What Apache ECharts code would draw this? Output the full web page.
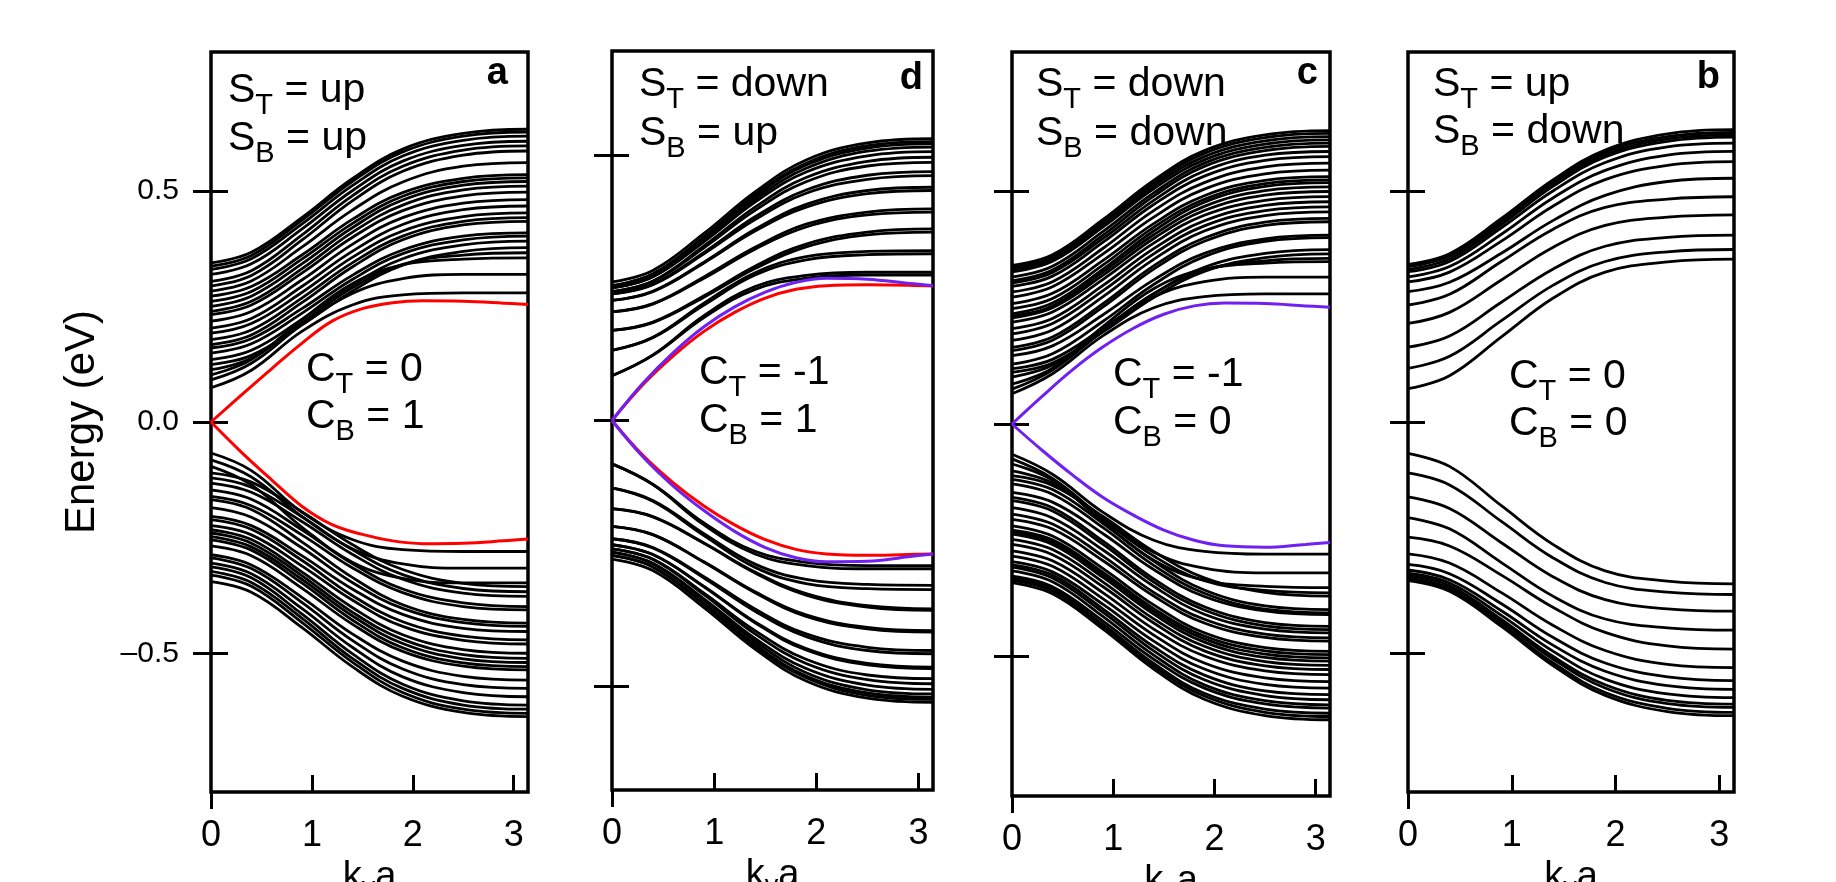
<!DOCTYPE html>
<html>
<head>
<meta charset="utf-8">
<title>Band structures</title>
<script src="https://cdn.jsdelivr.net/npm/echarts@6/dist/echarts.min.js"></script>
<style>
  html, body { margin: 0; padding: 0; background: #fff; }
  #main { width: 1836px; height: 882px; }
</style>
</head>
<body>
<div id="main"></div>
<script>
// sample points along k_y a for the bulk bands, and a finer set for the edge states
const kBand = [0, 0.4, 0.9, 1.4, 1.9, 2.5, 3.1416];
const kEdge = [0, 0.3, 0.6, 0.9, 1.2, 1.5, 1.8, 2.1, 2.5, 2.9, 3.1416];

const xTickValues = [0, 1, 2, 3];
const yTickValues = [-0.5, 0, 0.5];
const yTickValuesD = [-0.575, 0, 0.575];
const yTickLabels = { '-0.5': '\u20130.5', '0': '0.0', '0.5': '0.5' };

// panel a : S_T = up, S_B = up
const aUpper = [
  [0.344, 0.367, 0.442, 0.526, 0.590, 0.624, 0.633],
  [0.337, 0.360, 0.436, 0.520, 0.584, 0.618, 0.627],
  [0.330, 0.353, 0.428, 0.511, 0.575, 0.609, 0.618],
  [0.319, 0.342, 0.417, 0.500, 0.564, 0.598, 0.607],
  [0.304, 0.327, 0.404, 0.489, 0.553, 0.588, 0.597],
  [0.294, 0.317, 0.393, 0.478, 0.542, 0.577, 0.586],
  [0.283, 0.305, 0.378, 0.458, 0.519, 0.553, 0.561],
  [0.272, 0.293, 0.361, 0.438, 0.496, 0.527, 0.535],
  [0.261, 0.282, 0.352, 0.429, 0.488, 0.520, 0.528],
  [0.250, 0.272, 0.342, 0.420, 0.480, 0.512, 0.520],
  [0.239, 0.261, 0.331, 0.410, 0.469, 0.502, 0.510],
  [0.232, 0.253, 0.322, 0.399, 0.457, 0.489, 0.497],
  [0.218, 0.239, 0.307, 0.384, 0.442, 0.473, 0.481],
  [0.203, 0.224, 0.293, 0.369, 0.427, 0.459, 0.467],
  [0.192, 0.213, 0.280, 0.356, 0.413, 0.444, 0.452],
  [0.178, 0.199, 0.268, 0.344, 0.402, 0.434, 0.442],
  [0.167, 0.188, 0.258, 0.335, 0.394, 0.426, 0.434],
  [0.160, 0.180, 0.245, 0.317, 0.372, 0.402, 0.409],
  [0.149, 0.169, 0.235, 0.308, 0.364, 0.394, 0.402],
  [0.135, 0.155, 0.222, 0.296, 0.353, 0.383, 0.391],
  [0.124, 0.144, 0.210, 0.283, 0.339, 0.369, 0.377],
  [0.113, 0.138, 0.214, 0.290, 0.341, 0.361, 0.366],
  [0.102, 0.135, 0.221, 0.299, 0.340, 0.352, 0.355],
  [0.091, 0.127, 0.210, 0.278, 0.310, 0.319, 0.319],
  [0.074, 0.112, 0.196, 0.253, 0.275, 0.279, 0.279]
];
const aLower = [
  [-0.067, -0.105, -0.195, -0.254, -0.276, -0.280, -0.280],
  [-0.082, -0.119, -0.204, -0.274, -0.307, -0.316, -0.316],
  [-0.096, -0.136, -0.227, -0.303, -0.338, -0.348, -0.348],
  [-0.110, -0.130, -0.194, -0.265, -0.319, -0.349, -0.356],
  [-0.121, -0.141, -0.205, -0.276, -0.330, -0.360, -0.367],
  [-0.132, -0.152, -0.215, -0.286, -0.340, -0.370, -0.377],
  [-0.147, -0.167, -0.233, -0.306, -0.361, -0.391, -0.399],
  [-0.161, -0.181, -0.244, -0.315, -0.369, -0.399, -0.406],
  [-0.168, -0.189, -0.259, -0.336, -0.395, -0.427, -0.435],
  [-0.185, -0.206, -0.272, -0.347, -0.403, -0.434, -0.442],
  [-0.204, -0.224, -0.289, -0.361, -0.416, -0.446, -0.453],
  [-0.211, -0.232, -0.299, -0.375, -0.432, -0.463, -0.471],
  [-0.224, -0.244, -0.311, -0.385, -0.442, -0.472, -0.480],
  [-0.233, -0.254, -0.324, -0.401, -0.460, -0.492, -0.500],
  [-0.240, -0.262, -0.332, -0.411, -0.470, -0.503, -0.511],
  [-0.248, -0.270, -0.340, -0.419, -0.479, -0.512, -0.520],
  [-0.255, -0.277, -0.348, -0.428, -0.488, -0.521, -0.529],
  [-0.268, -0.289, -0.359, -0.437, -0.496, -0.528, -0.536],
  [-0.287, -0.309, -0.379, -0.458, -0.517, -0.550, -0.558],
  [-0.294, -0.317, -0.390, -0.472, -0.534, -0.568, -0.576],
  [-0.305, -0.328, -0.403, -0.487, -0.551, -0.585, -0.594],
  [-0.313, -0.337, -0.415, -0.501, -0.567, -0.603, -0.612],
  [-0.323, -0.347, -0.424, -0.511, -0.576, -0.612, -0.621],
  [-0.331, -0.355, -0.433, -0.519, -0.585, -0.621, -0.630],
  [-0.345, -0.368, -0.444, -0.529, -0.593, -0.628, -0.637]
];
const aRedUp = [0, 0.058, 0.115, 0.170, 0.218, 0.245, 0.258, 0.262, 0.261, 0.257, 0.254];
const aRedDn = [0, -0.065, -0.125, -0.182, -0.222, -0.243, -0.257, -0.263, -0.262, -0.257, -0.253];

// panel d : S_T = down, S_B = up
const dUpper = [
  [0.300, 0.325, 0.405, 0.495, 0.564, 0.601, 0.610],
  [0.292, 0.317, 0.398, 0.489, 0.557, 0.595, 0.604],
  [0.292, 0.317, 0.396, 0.485, 0.553, 0.590, 0.599],
  [0.287, 0.311, 0.391, 0.479, 0.546, 0.583, 0.592],
  [0.287, 0.311, 0.387, 0.473, 0.538, 0.573, 0.582],
  [0.279, 0.302, 0.378, 0.462, 0.526, 0.561, 0.570],
  [0.279, 0.301, 0.374, 0.455, 0.517, 0.551, 0.559],
  [0.274, 0.295, 0.364, 0.441, 0.499, 0.531, 0.539],
  [0.274, 0.294, 0.361, 0.435, 0.492, 0.522, 0.530],
  [0.260, 0.280, 0.343, 0.414, 0.468, 0.498, 0.505],
  [0.260, 0.279, 0.341, 0.410, 0.462, 0.491, 0.498],
  [0.235, 0.253, 0.311, 0.375, 0.425, 0.451, 0.458],
  [0.235, 0.252, 0.308, 0.371, 0.419, 0.445, 0.451],
  [0.195, 0.213, 0.270, 0.334, 0.382, 0.408, 0.415],
  [0.195, 0.212, 0.267, 0.329, 0.376, 0.402, 0.408],
  [0.152, 0.180, 0.254, 0.320, 0.355, 0.366, 0.368],
  [0.152, 0.179, 0.250, 0.315, 0.348, 0.359, 0.361],
  [0.097, 0.142, 0.227, 0.290, 0.314, 0.321, 0.321],
  [0.097, 0.141, 0.223, 0.284, 0.308, 0.315, 0.315]
];
const dLower = [
  [-0.094, -0.138, -0.222, -0.283, -0.307, -0.314, -0.314],
  [-0.094, -0.139, -0.226, -0.289, -0.314, -0.321, -0.321],
  [-0.146, -0.173, -0.245, -0.311, -0.344, -0.355, -0.357],
  [-0.146, -0.175, -0.249, -0.318, -0.353, -0.364, -0.366],
  [-0.191, -0.208, -0.265, -0.328, -0.375, -0.401, -0.408],
  [-0.191, -0.209, -0.266, -0.330, -0.378, -0.404, -0.411],
  [-0.229, -0.247, -0.306, -0.371, -0.421, -0.448, -0.455],
  [-0.229, -0.247, -0.307, -0.373, -0.424, -0.451, -0.458],
  [-0.256, -0.275, -0.338, -0.408, -0.462, -0.491, -0.498],
  [-0.256, -0.276, -0.341, -0.413, -0.468, -0.498, -0.505],
  [-0.269, -0.290, -0.359, -0.436, -0.494, -0.526, -0.534],
  [-0.269, -0.290, -0.360, -0.438, -0.497, -0.529, -0.537],
  [-0.278, -0.300, -0.374, -0.455, -0.517, -0.551, -0.559],
  [-0.278, -0.301, -0.377, -0.462, -0.526, -0.561, -0.570],
  [-0.285, -0.309, -0.386, -0.472, -0.537, -0.573, -0.582],
  [-0.285, -0.310, -0.389, -0.478, -0.546, -0.583, -0.592],
  [-0.292, -0.317, -0.396, -0.485, -0.553, -0.590, -0.599],
  [-0.292, -0.317, -0.398, -0.489, -0.557, -0.595, -0.604],
  [-0.300, -0.325, -0.405, -0.495, -0.564, -0.601, -0.610]
];
const dRedUp = [0, 0.077, 0.140, 0.193, 0.234, 0.265, 0.284, 0.292, 0.294, 0.293, 0.291];
const dRedDn = [0, -0.075, -0.135, -0.185, -0.226, -0.258, -0.279, -0.289, -0.292, -0.290, -0.289];
const dPurpleUp = [0, 0.080, 0.147, 0.203, 0.246, 0.278, 0.299, 0.308, 0.306, 0.297, 0.292];
const dPurpleDn = [0, -0.078, -0.142, -0.195, -0.240, -0.275, -0.297, -0.306, -0.305, -0.295, -0.289];

// panel c : S_T = down, S_B = down
const cUpper = [
  [0.341, 0.364, 0.440, 0.524, 0.588, 0.622, 0.631],
  [0.336, 0.359, 0.434, 0.518, 0.582, 0.616, 0.625],
  [0.332, 0.355, 0.429, 0.512, 0.575, 0.609, 0.618],
  [0.327, 0.350, 0.424, 0.506, 0.568, 0.602, 0.611],
  [0.316, 0.339, 0.414, 0.497, 0.561, 0.595, 0.604],
  [0.308, 0.331, 0.406, 0.490, 0.554, 0.588, 0.597],
  [0.303, 0.326, 0.399, 0.481, 0.544, 0.578, 0.586],
  [0.296, 0.318, 0.391, 0.472, 0.533, 0.567, 0.575],
  [0.284, 0.306, 0.378, 0.459, 0.519, 0.553, 0.561],
  [0.273, 0.295, 0.366, 0.445, 0.505, 0.538, 0.546],
  [0.259, 0.281, 0.352, 0.431, 0.491, 0.524, 0.532],
  [0.248, 0.270, 0.342, 0.423, 0.483, 0.517, 0.525],
  [0.237, 0.260, 0.333, 0.415, 0.477, 0.511, 0.519],
  [0.232, 0.254, 0.327, 0.407, 0.468, 0.502, 0.510],
  [0.228, 0.250, 0.320, 0.399, 0.459, 0.492, 0.500],
  [0.219, 0.241, 0.311, 0.389, 0.449, 0.481, 0.489],
  [0.205, 0.227, 0.298, 0.377, 0.437, 0.470, 0.478],
  [0.194, 0.216, 0.287, 0.366, 0.426, 0.459, 0.467],
  [0.180, 0.202, 0.274, 0.354, 0.415, 0.448, 0.456],
  [0.165, 0.187, 0.259, 0.340, 0.400, 0.434, 0.442],
  [0.158, 0.180, 0.252, 0.333, 0.393, 0.427, 0.435],
  [0.147, 0.168, 0.235, 0.310, 0.367, 0.398, 0.406],
  [0.129, 0.151, 0.221, 0.300, 0.360, 0.393, 0.401],
  [0.119, 0.139, 0.206, 0.280, 0.337, 0.367, 0.375],
  [0.111, 0.131, 0.198, 0.272, 0.328, 0.358, 0.366],
  [0.101, 0.127, 0.203, 0.280, 0.331, 0.351, 0.356],
  [0.086, 0.120, 0.210, 0.291, 0.333, 0.346, 0.349],
  [0.075, 0.116, 0.200, 0.273, 0.306, 0.316, 0.316],
  [0.065, 0.108, 0.190, 0.250, 0.274, 0.280, 0.280]
];
const cLower = [
  [-0.065, -0.108, -0.190, -0.250, -0.274, -0.280, -0.280],
  [-0.075, -0.117, -0.202, -0.276, -0.310, -0.320, -0.320],
  [-0.086, -0.121, -0.211, -0.293, -0.336, -0.349, -0.352],
  [-0.101, -0.127, -0.206, -0.284, -0.337, -0.358, -0.363],
  [-0.111, -0.132, -0.199, -0.274, -0.331, -0.362, -0.370],
  [-0.119, -0.141, -0.214, -0.295, -0.357, -0.391, -0.399],
  [-0.129, -0.151, -0.223, -0.304, -0.364, -0.398, -0.406],
  [-0.147, -0.168, -0.236, -0.313, -0.371, -0.402, -0.410],
  [-0.158, -0.180, -0.252, -0.333, -0.393, -0.427, -0.435],
  [-0.165, -0.187, -0.259, -0.340, -0.400, -0.434, -0.442],
  [-0.180, -0.202, -0.271, -0.349, -0.409, -0.441, -0.449],
  [-0.194, -0.215, -0.284, -0.362, -0.420, -0.452, -0.460],
  [-0.205, -0.226, -0.294, -0.370, -0.428, -0.459, -0.467],
  [-0.219, -0.241, -0.311, -0.389, -0.449, -0.481, -0.489],
  [-0.228, -0.249, -0.319, -0.397, -0.456, -0.488, -0.496],
  [-0.232, -0.254, -0.324, -0.403, -0.462, -0.495, -0.503],
  [-0.237, -0.259, -0.330, -0.409, -0.469, -0.502, -0.510],
  [-0.248, -0.270, -0.340, -0.419, -0.478, -0.511, -0.519],
  [-0.259, -0.281, -0.350, -0.428, -0.488, -0.520, -0.528],
  [-0.273, -0.294, -0.363, -0.441, -0.499, -0.531, -0.539],
  [-0.284, -0.306, -0.376, -0.454, -0.514, -0.546, -0.554],
  [-0.296, -0.318, -0.388, -0.467, -0.527, -0.560, -0.568],
  [-0.303, -0.325, -0.398, -0.479, -0.540, -0.574, -0.582],
  [-0.308, -0.331, -0.405, -0.488, -0.550, -0.584, -0.593],
  [-0.316, -0.339, -0.414, -0.497, -0.561, -0.595, -0.604],
  [-0.327, -0.350, -0.424, -0.506, -0.568, -0.602, -0.611],
  [-0.332, -0.355, -0.431, -0.515, -0.579, -0.613, -0.622],
  [-0.336, -0.359, -0.436, -0.521, -0.585, -0.620, -0.629],
  [-0.341, -0.365, -0.441, -0.527, -0.592, -0.627, -0.636]
];
const cPurpleUp = [0, 0.060, 0.117, 0.166, 0.206, 0.236, 0.254, 0.260, 0.259, 0.254, 0.251];
const cPurpleDn = [0, -0.057, -0.110, -0.158, -0.196, -0.228, -0.250, -0.262, -0.265, -0.259, -0.255];

// panel b : S_T = up, S_B = down
const bUpper = [
  [0.341, 0.364, 0.440, 0.524, 0.588, 0.623, 0.632],
  [0.339, 0.362, 0.437, 0.520, 0.583, 0.617, 0.626],
  [0.336, 0.359, 0.433, 0.516, 0.578, 0.612, 0.621],
  [0.330, 0.353, 0.427, 0.510, 0.573, 0.607, 0.616],
  [0.325, 0.347, 0.420, 0.500, 0.561, 0.595, 0.603],
  [0.314, 0.336, 0.406, 0.485, 0.544, 0.577, 0.585],
  [0.303, 0.324, 0.391, 0.467, 0.524, 0.555, 0.563],
  [0.282, 0.302, 0.365, 0.436, 0.490, 0.520, 0.527],
  [0.253, 0.276, 0.347, 0.417, 0.464, 0.482, 0.487],
  [0.213, 0.237, 0.307, 0.378, 0.425, 0.443, 0.448],
  [0.162, 0.186, 0.259, 0.331, 0.380, 0.399, 0.404],
  [0.116, 0.142, 0.219, 0.296, 0.347, 0.368, 0.373],
  [0.072, 0.100, 0.184, 0.268, 0.324, 0.346, 0.352]
];
const bLower = [
  [-0.068, -0.096, -0.181, -0.265, -0.322, -0.344, -0.350],
  [-0.110, -0.136, -0.215, -0.294, -0.347, -0.368, -0.373],
  [-0.162, -0.187, -0.261, -0.335, -0.384, -0.404, -0.409],
  [-0.207, -0.231, -0.304, -0.377, -0.426, -0.445, -0.450],
  [-0.249, -0.268, -0.331, -0.401, -0.455, -0.484, -0.491],
  [-0.285, -0.305, -0.369, -0.440, -0.494, -0.524, -0.531],
  [-0.308, -0.328, -0.393, -0.466, -0.521, -0.551, -0.559],
  [-0.320, -0.341, -0.408, -0.483, -0.539, -0.570, -0.578],
  [-0.327, -0.348, -0.418, -0.496, -0.556, -0.588, -0.596],
  [-0.332, -0.354, -0.427, -0.507, -0.568, -0.602, -0.610],
  [-0.337, -0.359, -0.432, -0.513, -0.575, -0.609, -0.617],
  [-0.340, -0.363, -0.438, -0.521, -0.585, -0.619, -0.628],
  [-0.343, -0.366, -0.442, -0.527, -0.591, -0.626, -0.635]
];

const RED = '#ff0000';
const PURPLE = '#7020f0';
const FF = '"Liberation Sans", Arial, Helvetica, sans-serif';

// layout of the four panels, left to right
const panels = [
  { box: [211, 52, 317, 740], ticks: yTickValues, labels: true, letter: 'a', letterPos: [508, 74],
    spin: ['up', 'up'], spinPos: [228, 90.7, 139], chern: ['0', '1'], chernPos: [306, 369.5, 417],
    bands: [aUpper, aLower], edges: [[aRedUp, RED], [aRedDn, RED]] },
  { box: [612, 51, 321, 739], ticks: yTickValuesD, labels: false, letter: 'd', letterPos: [923, 78.5],
    spin: ['down', 'up'], spinPos: [639, 85, 134], chern: ['-1', '1'], chernPos: [699, 373, 421],
    bands: [dUpper, dLower],
    edges: [[dRedUp, RED], [dRedDn, RED], [dPurpleUp, PURPLE], [dPurpleDn, PURPLE]] },
  { box: [1012, 52, 318, 744], ticks: yTickValues, labels: false, letter: 'c', letterPos: [1318, 74],
    spin: ['down', 'down'], spinPos: [1036, 85, 134], chern: ['-1', '0'], chernPos: [1113, 375, 423],
    bands: [cUpper, cLower], edges: [[cPurpleUp, PURPLE], [cPurpleDn, PURPLE]] },
  { box: [1408, 52, 326, 740], ticks: yTickValues, labels: false, letter: 'b', letterPos: [1720, 77.5],
    spin: ['up', 'down'], spinPos: [1433, 85, 132], chern: ['0', '0'], chernPos: [1509, 376.7, 424],
    bands: [bUpper, bLower], edges: [] }
];

const richMain = { fontSize: 41, fontFamily: FF, fill: '#000' };
const richSub = { fontSize: 29, fontFamily: FF, fill: '#000', padding: [30, 0, 0, 0] };

function subText(x, y, big, small, rest) {
  return {
    type: 'text', x: x, y: y, silent: true,
    style: {
      text: '{m|' + big + '}{s|' + small + '}{m|' + rest + '}',
      align: 'left', textAlign: 'left', verticalAlign: 'middle', textVerticalAlign: 'middle',
      fill: '#000', rich: { m: richMain, s: richSub }
    }
  };
}

const grids = [], xAxes = [], yAxes = [], series = [], graphics = [];

panels.forEach((p, i) => {
  const [left, top, width, height] = p.box;
  grids.push({ left, top, width, height, show: true, borderColor: '#000', borderWidth: 3.5,
    backgroundColor: 'transparent', containLabel: false, outerBoundsMode: 'none' });

  const tickStyle = { color: '#000', width: 3 };
  // bottom axis: labels, name, outward tick at 0
  xAxes.push({
    gridIndex: i, type: 'value', min: 0, max: Math.PI, position: 'bottom',
    axisLine: { show: false, onZero: false }, splitLine: { show: false },
    axisTick: { show: true, inside: false, length: 17, customValues: [0], lineStyle: tickStyle },
    axisLabel: { show: true, customValues: xTickValues, formatter: v => String(Math.round(v)),
      fontSize: 36, fontFamily: FF, color: '#000', margin: 26 },
    name: '{m|k}{s|y}{m|a}', nameLocation: 'middle', nameGap: 41,
    nameTextStyle: { rich: {
      m: { fontSize: 38, fontFamily: FF, color: '#000' },
      s: { fontSize: 27, fontFamily: FF, color: '#000', padding: [22, 0, 0, 0] } } }
  });
  // top axis moved down onto the bottom edge: its outward ticks point up into the plot
  xAxes.push({
    gridIndex: i, type: 'value', min: 0, max: Math.PI, position: 'top', offset: -height,
    axisLine: { show: false, onZero: false }, splitLine: { show: false }, axisLabel: { show: false },
    axisTick: { show: true, inside: false, length: 17, customValues: [1, 2, 3], lineStyle: tickStyle }
  });
  // left axis: outward half of the crossing ticks, labels on panel a
  yAxes.push({
    gridIndex: i, type: 'value', min: -0.8, max: 0.8, position: 'left',
    axisLine: { show: false, onZero: false }, splitLine: { show: false },
    axisTick: { show: true, inside: false, length: 18, customValues: p.ticks, lineStyle: tickStyle },
    axisLabel: { show: p.labels, customValues: p.ticks, formatter: v => yTickLabels[String(v)],
      fontSize: 30, fontFamily: FF, color: '#000', margin: 32 },
    name: p.labels ? 'Energy (eV)' : '', nameLocation: 'middle', nameGap: 108,
    nameTextStyle: { fontSize: 42, fontFamily: FF, color: '#000' }
  });
  // right axis moved onto the left edge: inward half of the ticks
  yAxes.push({
    gridIndex: i, type: 'value', min: -0.8, max: 0.8, position: 'right', offset: -width,
    axisLine: { show: false, onZero: false }, splitLine: { show: false }, axisLabel: { show: false },
    axisTick: { show: true, inside: false, length: 17, customValues: p.ticks, lineStyle: tickStyle }
  });

  p.bands.forEach(group => group.forEach(band => {
    series.push({
      type: 'line', xAxisIndex: 2 * i, yAxisIndex: 2 * i, silent: true,
      showSymbol: false, smooth: 0.4, z: 2,
      lineStyle: { color: '#000', width: 2.8 },
      data: kBand.map((k, j) => [k, band[j]])
    });
  }));
  p.edges.forEach(([vals, color]) => {
    series.push({
      type: 'line', xAxisIndex: 2 * i, yAxisIndex: 2 * i, silent: true,
      showSymbol: false, smooth: 0.4, z: 3,
      lineStyle: { color: color, width: 3 },
      data: kEdge.map((k, j) => [k, vals[j]])
    });
  });

  graphics.push(subText(p.spinPos[0], p.spinPos[1], 'S', 'T', ' = ' + p.spin[0]));
  graphics.push(subText(p.spinPos[0], p.spinPos[2], 'S', 'B', ' = ' + p.spin[1]));
  graphics.push(subText(p.chernPos[0], p.chernPos[1], 'C', 'T', ' = ' + p.chern[0]));
  graphics.push(subText(p.chernPos[0], p.chernPos[2], 'C', 'B', ' = ' + p.chern[1]));
  graphics.push({
    type: 'text', x: p.letterPos[0], y: p.letterPos[1], silent: true,
    style: { text: p.letter, font: 'bold 38px ' + FF, fill: '#000',
      align: 'right', textAlign: 'right', verticalAlign: 'middle', textVerticalAlign: 'middle' }
  });
});

const chart = echarts.init(document.getElementById('main'), null, { renderer: 'canvas' });
chart.setOption({
  animation: false,
  backgroundColor: '#fff',
  grid: grids,
  xAxis: xAxes,
  yAxis: yAxes,
  series: series,
  graphic: graphics
});
</script>
</body>
</html>
